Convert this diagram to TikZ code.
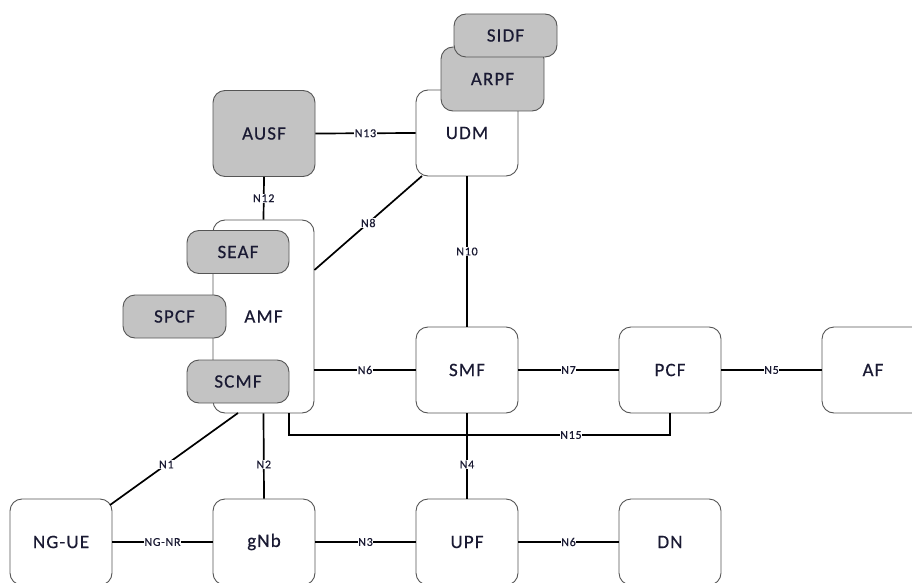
\documentclass[tikz,border=0pt]{standalone}
\usepackage{fontspec}
\setmainfont[LetterSpace=6,FakeBold=0.4]{Carlito}
\definecolor{boxgray}{HTML}{C3C3C3}
\definecolor{edgegray}{HTML}{555555}
\definecolor{txt}{HTML}{1A1A33}
\begin{document}
\begin{tikzpicture}[x=1pt,y=-1pt,
  nf/.style={draw=edgegray,line width=0.9pt,rounded corners=12pt,fill=white,
    minimum width=102pt,minimum height=86pt,inner sep=0pt,font=\fontsize{19}{21}\selectfont,text=txt},
  sub/.style={nf,fill=boxgray,minimum height=43pt},
  conn/.style={line width=1.7pt,black},
  lbl/.style={fill=white,inner sep=0.6pt,font=\fontsize{12}{13}\selectfont,text=txt}]
\useasboundingbox (0,0) rectangle (912,583);
\clip (0,0) rectangle (912,583);
% nodes
\node[nf,fill=boxgray] (AUSF) at (264,133.5) {AUSF};
\node[nf] (UDM) at (467,133) {UDM};
\node[sub,minimum width=103pt,minimum height=64pt] (ARPF) at (492.5,79) {ARPF};
\node[sub,minimum width=103pt] (SIDF) at (505.5,35.5) {SIDF};
\node[nf,minimum width=101pt,minimum height=193pt] (AMF) at (263.5,316.5) {AMF};
\node[sub] (SEAF) at (238,252) {SEAF};
\node[sub,minimum width=103pt] (SPCF) at (174.5,316.5) {SPCF};
\node[sub] (SCMF) at (238,381.5) {SCMF};
\node[nf] (SMF) at (467,370) {SMF};
\node[nf] (PCF) at (670,370) {PCF};
\node[nf] (AF) at (873,370) {AF};
\node[nf] (NGUE) at (61,542) {NG-UE};
\node[nf] (gNb) at (264,542) {gNb};
\node[nf] (UPF) at (467,542) {UPF};
\node[nf] (DN) at (670,542) {DN};
% connectors
\coordinate (amfN8) at (AMF.east |- 0,270);
\coordinate (udmN8) at (422,176);
\coordinate (amfN1) at (238,413);
\coordinate (ueN1) at (110,505);
\coordinate (amfN15) at (289,413);
\draw[conn] (AUSF.east) -- node[lbl]{N13} (UDM.west);
\draw[conn] (AUSF.south) -- node[lbl]{N12} (AMF.north);
\draw[conn] (amfN8) -- node[lbl]{N8} (udmN8);
\draw[conn] (UDM.south) -- node[lbl]{N10} (SMF.north);
\draw[conn] (AMF.east |- SMF.west) -- node[lbl]{N6} (SMF.west);
\draw[conn] (SMF.east) -- node[lbl]{N7} (PCF.west);
\draw[conn] (PCF.east) -- node[lbl]{N5} (AF.west);
\draw[conn] (amfN15) -- ++(0,22) -| node[lbl,pos=0.37]{N15} (PCF.south);
\draw[conn] (SMF.south) -- node[lbl,pos=0.6]{N4} (UPF.north);
\draw[conn] (AMF.south) -- node[lbl,pos=0.6]{N2} (gNb.north);
\draw[conn] (amfN1) -- node[lbl,pos=0.56]{N1} (ueN1);
\draw[conn] (NGUE.east) -- node[lbl]{NG-NR} (gNb.west);
\draw[conn] (gNb.east) -- node[lbl]{N3} (UPF.west);
\draw[conn] (UPF.east) -- node[lbl]{N6} (DN.west);
\end{tikzpicture}
\end{document}
